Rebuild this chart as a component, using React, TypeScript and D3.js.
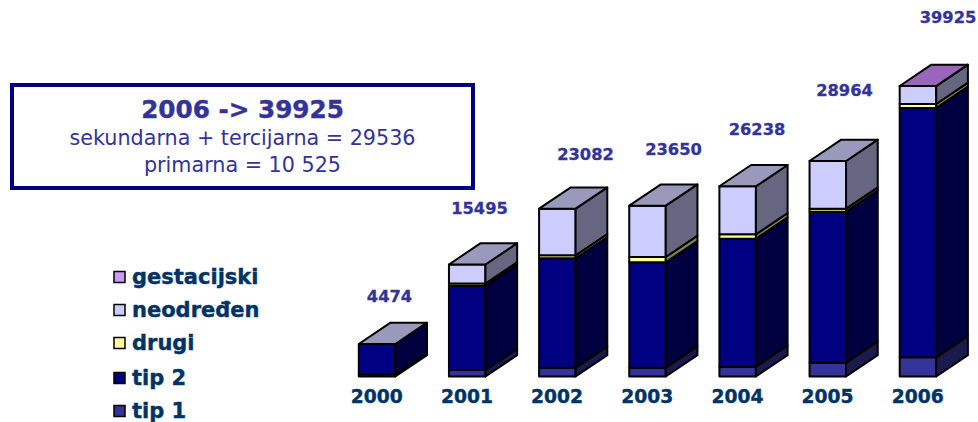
import React from "react";
import * as d3 from "d3";

const W = 978, H = 422;
const years = ["2000", "2001", "2002", "2003", "2004", "2005", "2006"];
const tip1 = [302, 893, 1209, 1210, 1347, 1897, 2639];
const tip2 = [4164, 11545, 15036, 14486, 17592, 20753, 34263];
const drugi = [0, 344, 412, 728, 605, 412, 550];
const neodredjen = [0, 2611, 6405, 7050, 6597, 6556, 2474];
const gestacijski = [0, 0, 0, 0, 0, 0, 1];
const totals = [4474, 15495, 23082, 23650, 26238, 28964, 39925];
const totalLabelX = [389.5, 479.5, 585.5, 673.5, 757, 844.5, 948];
const totalLabelY = [302, 214, 160, 155, 135, 96, 23];

const series = [
  { name: "tip 1", values: tip1, color: "#333399" },
  { name: "tip 2", values: tip2, color: "#000080" },
  { name: "drugi", values: drugi, color: "#FFFF99" },
  { name: "neodređen", values: neodredjen, color: "#CCCCFF" },
  { name: "gestacijski", values: gestacijski, color: "#CC99FF" },
];
const legendOrder = ["gestacijski", "neodređen", "drugi", "tip 2", "tip 1"];
const legendY = [277, 310, 343, 378, 411];

const FONT = "Verdana, 'DejaVu Sans', sans-serif";
const y = d3.scaleLinear().domain([0, 39925]).range([376.5, 86]);
const DX = 31.7, DY = -21.3;
const darken = (c: string, f: number) => {
  const r = d3.rgb(c);
  return d3.rgb(r.r * f, r.g * f, r.b * f).formatHex();
};
const pts = (a: [number, number][]) => a.map((p) => p.join(",")).join(" ");

export default function App() {
  const bw = 36.5;
  const step = 90.15;
  const xOf = (i: number) => 358.8 + step * i;
  const stack = d3.stack<number>()
    .keys(series.map((_, i) => String(i)))
    .value((i, k) => series[+k].values[i])(years.map((_, i) => i));
  return (
    <svg width={W} height={H} style={{ position: "absolute", left: 0, top: 0 }} fontFamily={FONT}>
      <rect x={12} y={85} width={461} height={103} fill="#fff" stroke="#000080" strokeWidth={4} />
      <text x={242.5} y={118} textAnchor="middle" fontSize={24.7} fontWeight="bold" fill="#333399" stroke="#333399" strokeWidth={0.4}>2006 -&gt; 39925</text>
      <text x={242.5} y={145} textAnchor="middle" fontSize={20.7} fill="#333399">sekundarna + tercijarna = 29536</text>
      <text x={242.5} y={172} textAnchor="middle" fontSize={20.7} fill="#333399">primarna = 10 525</text>

      {years.map((yr, i) => {
        const x0 = xOf(i), x1 = x0 + bw;
        const segs = series.map((s, k) => ({ color: s.color, a: stack[k][i][0], b: stack[k][i][1] })).filter((d) => d.b > d.a);
        const last = segs[segs.length - 1];
        const topY = y(last.b);
        const topColor = gestacijski[i] > 0 ? "#9966BB" : "#9999BB";
        return (
          <g key={yr} stroke="#000" strokeWidth={2} strokeLinejoin="round">
            {segs.map((d, j) => {
              const yb = y(d.a), yt = y(d.b);
              return (
                <g key={j}>
                  <rect x={x0} y={yt} width={bw} height={yb - yt} fill={d.color} />
                  <polygon points={pts([[x1, yb], [x1 + DX, yb + DY], [x1 + DX, yt + DY], [x1, yt]])} fill={darken(d.color, 0.5)} />
                </g>
              );
            })}
            <polygon points={pts([[x0, topY], [x0 + DX, topY + DY], [x1 + DX, topY + DY], [x1, topY]])} fill={topColor} />
          </g>
        );
      })}

      {years.map((yr, i) => (
        <text key={yr} x={xOf(i) + 18} y={403} textAnchor="middle" fontSize={18.7} fontWeight="bold" fill="#003366" stroke="#003366" strokeWidth={0.4}>{yr}</text>
      ))}
      {totals.map((t, i) => (
        <text key={t} x={totalLabelX[i]} y={totalLabelY[i]} textAnchor="middle" fontSize={16.3} fontWeight="bold" fill="#333399" stroke="#333399" strokeWidth={0.3}>{t}</text>
      ))}
      {legendOrder.map((n, i) => {
        const s = series.find((d) => d.name === n)!;
        return (
          <g key={n}>
            <rect x={114} y={legendY[i] - 5.5} width={11} height={11} fill={s.color} stroke="#000" strokeWidth={1.5} />
            <text x={132} y={legendY[i] + 7} fontSize={21} fontWeight="bold" fill="#003366" stroke="#003366" strokeWidth={0.4}>{n}</text>
          </g>
        );
      })}
    </svg>
  );
}
